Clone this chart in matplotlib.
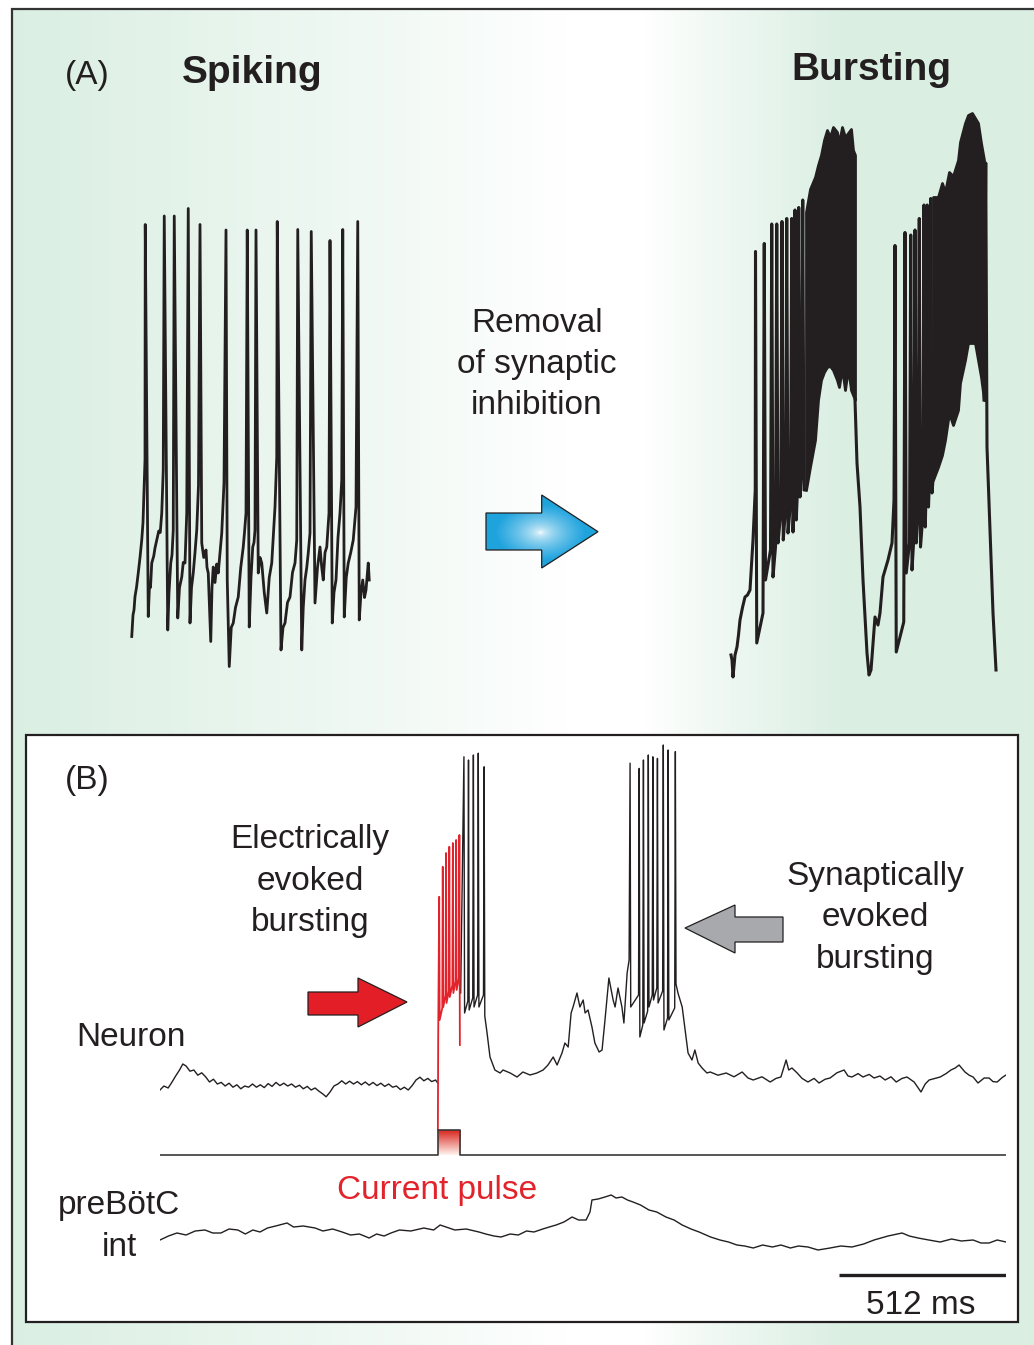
import numpy as np
import matplotlib.pyplot as plt
from matplotlib.patches import Polygon, Rectangle

plt.rcParams['font.family'] = ['Liberation Sans', 'DejaVu Sans']

W, H = 1034, 1345
INK = '#231f20'
RED = '#e3232b'

#~~~~~~~~~~~~~~~~~~~~~~~~~~ (A) spiking trace: time (ms), Vm (mV) ~~~~~~~~~~~~~~~~~~~~~~~~~~
spk_t = [7, 12, 16, 20, 26, 33, 40, 47, 52, 56, 60, 61,
         73, 78, 82, 87, 95, 100, 107, 115, 121, 127, 133, 137,
         151, 156, 163, 168, 173, 177,
         191, 198, 207, 213, 220, 227, 233,
         240, 246, 253, 260, 267, 274, 280,
         287, 295, 304, 308, 313, 318, 323, 328, 333, 340, 347, 353, 360, 367, 376, 384,
         389, 397, 405, 413, 422, 433, 443, 453, 458, 464, 469,
         477, 484, 491, 496, 500, 504,
         513, 520, 527, 537, 547, 557, 567, 574, 580, 587, 589,
         604, 612, 620, 630, 640, 650, 660, 667, 671,
         687, 693, 700, 707, 713, 720, 725,
         740, 750, 760, 767, 773, 780, 787, 796, 800,
         809, 816, 824, 832, 840, 847, 851,
         857, 865, 873, 883, 893, 904, 911,
         917, 924, 931, 938, 944, 953, 957]
spk_v = [-61.3, -57, -56, -53.3, -51.5, -48.6, -45.5, -42, -38.5, -32, -26, 21.1,
         -57.3, -51, -51.5, -46.6, -45.2, -43.6, -42, -40.2, -40.5, -36.6, -28, 22.8,
         -60, -52.5, -46.6, -45, -40, 22.8,
         -57.6, -51.5, -49.4, -46.5, -46.6, -36.6, 24.3,
         -58.6, -51.5, -48.6, -44.5, -40, -31, 21.1,
         -42.6, -45.5, -44, -47.5, -48.6, -55.5, -62.3, -51.5, -47.4, -50.5, -46.8, -48.6,
         -44.5, -40.6, -30.6, 20,
         -50, -67.3, -59.5, -58.6, -55.5, -53.4, -47.5, -43.4, -40.5, -36.6, 20,
         -59.4, -49.5, -43.4, -42.5, -40, 20,
         -48.6, -45.5, -46.6, -52.5, -56.6, -49.5, -46.6, -40.5, -35.4, -25.4, 21.7,
         -64, -59.5, -58.6, -54.5, -53.4, -48.5, -46.6, -42, 20.1,
         -64, -55.5, -50, -47.5, -44.6, -40.6, 19.7,
         -54.6, -47.5, -43.4, -47.5, -50, -44.5, -43.4, -36.6, 17.9,
         -58.6, -52.5, -50, -41.5, -36.6, -30, 20.1,
         -57.4, -49.5, -46.6, -44.5, -42, -35.4, 21.7,
         -58, -52.5, -50, -53.5, -52, -46.6, -50]

#~~~~~~~~~~~~~~~~~~~~~~~~~~ (A) bursting trace ~~~~~~~~~~~~~~~~~~~~~~~~~~
b_pre_t = [4, 8, 12, 20, 28, 34, 40, 50, 60, 70, 80, 86, 92, 101]
b_pre_v = [-65, -66, -69.4, -65, -63.4, -61, -58, -55.5, -53.4, -53, -52, -47, -42, -32]
b1_t = [102, 137, 167, 187, 208, 227, 247, 260, 275, 291]
b1_peak = [15.7, 17.3, 21.2, 21.2, 21.7, 22.3, 22.3, 24, 24.5, 26]
b1_trough = [-62.6, -50, -49.4, -42.6, -42, -40.6, -40.4, -38, -33.4, -32]
d1_t = [304, 320, 340, 352, 364, 376, 388, 400, 412, 428, 436, 448, 460, 472, 484, 492, 500]
d1_top = [23.6, 28.2, 30.6, 33, 35, 38, 40, 38.6, 40.6, 39.6, 37.4, 40.6, 38.6, 39.4, 40.2, 36, 35]
d1_bot = [-32, -27.4, -22, -14, -10, -8.4, -7.4, -7.2, -8, -10, -11.4, -7.6, -12, -7.6, -12, -13, -14]
b_mid_t = [500, 508, 520, 532, 548, 556, 564, 568, 580, 592, 600, 612, 632, 648, 656]
b_mid_v = [-14, -26.6, -35.4, -50, -64.6, -69, -68, -65.4, -57.4, -59, -56.6, -49.4, -46, -42.6, -34]
b2_t = [660, 700, 723, 740, 757, 776, 789, 803]
b2_peak = [16.9, 19.5, 19, 20, 22.3, 25, 25, 26.3]
b2_trough = [-64.4, -48.6, -48, -42.6, -43.4, -39.4, -35.4, -32.6]
d2_t = [812, 832, 848, 860, 876, 892, 912, 920, 940, 952, 968, 980, 992, 1004, 1016]
d2_top = [26.6, 26.6, 29.4, 27.6, 31.6, 30.8, 34, 37.6, 41.4, 43, 43.4, 42.4, 41.4, 37.4, 34]
d2_bot = [-30, -27.4, -25, -22, -16.6, -19, -16, -10.6, -6, -2.6, -2.6, -2.6, -6, -9.4, -14]
b_end_t = [1016, 1023, 1028, 1040, 1052, 1064]
b_end_v = [-14, 33.4, -23.4, -40, -56.6, -68]

#~~~~~~~~~~~~~~~~~~~~~~~~~~ (B) neuron (mV), current (nA), preBotC int (a.u.) ~~~~~~~~~~~~~~~~~~~~~~~~~~
nrn_left_t = [0, 12, 25, 37, 48, 60, 70, 80, 92, 104, 116, 128, 140, 152, 164, 176, 188, 200,
              212, 224, 236, 248, 260, 272, 284, 296, 308, 320, 332, 344, 356, 368, 380, 392,
              404, 416, 428, 440, 452, 464, 476, 488, 500, 510, 522, 534, 546, 558, 570, 582,
              594, 606, 618, 630, 642, 654, 666, 678, 690, 702, 714, 726, 738, 750, 762, 774,
              786, 798, 810, 822, 834, 846, 853]
nrn_left_v = [-62.5, -61.5, -62, -60.5, -59, -57.5, -56, -56.5, -57.8, -57.5, -58.8, -58.2,
              -59.2, -60.5, -59.8, -61, -60.6, -61.5, -60.8, -61.8, -61.2, -62.2, -61.5, -61.8,
              -61, -61.8, -61.2, -61.9, -60.9, -61.6, -60.6, -61.4, -60.8, -61.5, -61, -61.8,
              -61.3, -62.2, -61.6, -62.5, -62, -62.8, -63.5, -64.2, -63, -61.5, -61, -60.2, -61,
              -60.3, -61, -60.4, -61.2, -60.5, -61.3, -60.6, -61.4, -60.8, -61.6, -61, -61.8,
              -61.5, -62.4, -61.8, -62.5, -61.4, -60, -59.3, -60.2, -59.6, -60.4, -60, -60.8]
# electrically evoked spikes (red, during the pulse)
ev_start_t = [853, 854]
ev_start_v = [-72.5, -49.25]
ev_t = [857, 868, 878, 888, 899, 909, 919]
ev_peak = [-14.2, -6.7, -3.25, -1.7, -0.75, 0, 1.25]
ev_trough = [-45, -41.75, -40.75, -39.25, -38.25, -37.5, -51.25]
# spikes after the pulse
ap1_t = [933, 947, 962, 977, 995]
ap1_peak = [20.8, 20, 21.25, 21.7, 18.3]
ap1_trough = [-43.25, -42.5, -41.75, -41.75, -44]
nrn_mid_t = [1004, 1013, 1028, 1044, 1053, 1075, 1096, 1114, 1136, 1157, 1176, 1191, 1207,
             1219, 1234, 1243, 1253, 1262, 1268, 1280, 1289, 1299, 1305, 1314, 1326, 1335,
             1348, 1357, 1366, 1378, 1391, 1397, 1406, 1418, 1424, 1434, 1440]
nrn_mid_v = [-48.25, -54.25, -57.5, -58.25, -57.5, -58.25, -59.25, -58, -58.75, -58.25, -57.5,
             -56.25, -54.25, -56.25, -53.25, -50.75, -51.75, -43.25, -41.75, -38.25, -41.75,
             -40, -43.25, -42.5, -46.75, -50.75, -53, -52.5, -45, -34.5, -40, -41.75, -37,
             -41.75, -45.75, -33.25, -30]
# synaptically evoked burst
ap2_t = [1443, 1471, 1484, 1499, 1513, 1527, 1545, 1560, 1582]
ap2_peak = [19.2, 17.9, 20, 21.25, 20.8, 20.4, 23.75, 22.5, 22.1]
ap2_trough = [-41.75, -49.25, -45.75, -41.75, -40, -40.75, -47.5, -45, -36]
nrn_tail_t = [1590, 1603, 1612, 1621, 1633, 1642, 1652, 1664, 1679]
nrn_tail_v = [-38.25, -41.75, -47.5, -53.25, -55, -52.5, -55.75, -57, -58.25]
nrn_right_t = [1689, 1713, 1738, 1762, 1787, 1805, 1821, 1848, 1873, 1891, 1906, 1922, 1930,
               1940, 1956, 1971, 1989, 2008, 2023, 2042, 2057, 2078, 2100, 2112, 2124, 2143,
               2158, 2177, 2192, 2210, 2226, 2244, 2260, 2278, 2293, 2315, 2336, 2349, 2361,
               2379, 2395, 2413, 2428, 2441, 2453, 2471, 2484, 2496, 2511, 2530, 2545, 2557,
               2570, 2585, 2597]
nrn_right_v = [-58, -58.8, -58.25, -59.2, -58, -59.5, -60, -59.2, -60.5, -59.6, -59.25, -55,
               -57.5, -57, -58.25, -59.6, -60.5, -59.6, -60.75, -59.8, -59.5, -58.2, -57.5, -59,
               -59.25, -58.4, -59.25, -58.6, -59.5, -59, -60, -59.2, -60.5, -59.6, -59.25,
               -60.5, -63, -61, -60, -59.6, -59.25, -58.4, -57.5, -57, -56.25, -58, -58.8,
               -59.25, -60.75, -59.5, -59.5, -60.4, -60.5, -59.4, -58.75]

pulse_on, pulse_off, pulse_amp = 853, 921, 0.5
t_end = 2597

int_t = [0, 26, 52, 80, 108, 138, 162, 187, 212, 239, 262, 285, 307, 330, 355, 390, 410, 440,
         476, 500, 530, 559, 585, 612, 642, 665, 688, 709, 735, 770, 810, 840, 860, 878, 905,
         940, 979, 1000, 1025, 1047, 1075, 1100, 1125, 1148, 1175, 1195, 1216, 1240, 1265,
         1285, 1308, 1320, 1326, 1345, 1366, 1385, 1400, 1418, 1435, 1452, 1475, 1501, 1525,
         1553, 1578, 1603, 1630, 1655, 1690, 1719, 1745, 1771, 1795, 1821, 1850, 1880, 1906,
         1935, 1960, 1989, 2020, 2057, 2090, 2124, 2160, 2192, 2235, 2278, 2300, 2327, 2360,
         2395, 2430, 2460, 2496, 2520, 2545, 2570, 2597]
int_v = [2.0, 2.4, 2.7, 2.5, 2.9, 3.0, 2.7, 2.7, 3.1, 3.0, 2.6, 3.0, 2.8, 3.2, 3.4, 3.7, 3.3,
         3.4, 3.2, 2.9, 3.1, 2.8, 2.5, 2.6, 2.2, 2.6, 2.4, 2.7, 3.0, 2.9, 3.2, 3.0, 3.5, 3.3,
         3.0, 3.1, 2.8, 2.6, 2.4, 2.3, 2.6, 2.5, 2.9, 2.8, 3.1, 3.3, 3.5, 3.8, 4.3, 4.0, 4.0,
         4.8, 6.0, 6.1, 6.3, 6.5, 6.2, 6.3, 6.0, 5.8, 5.5, 5.0, 4.8, 4.3, 4.0, 3.5, 3.1, 2.8,
         2.3, 2.0, 1.8, 1.5, 1.4, 1.2, 1.5, 1.3, 1.5, 1.2, 1.4, 1.3, 1.0, 1.2, 1.4, 1.3, 1.6,
         2.0, 2.4, 2.7, 2.4, 2.2, 2.0, 1.8, 2.1, 1.9, 2.0, 1.7, 1.7, 2.0, 1.8]
scale_ms = 512


def spike_path(t, peak, trough, w, ramp):
    xs, ys = [], []
    for i in range(len(t)):
        if i > 0:
            xs.append(t[i] - w); ys.append(trough[i - 1] + ramp)
        xs += [t[i], t[i] + w]
        ys += [peak[i], trough[i]]
    return xs, ys


def px_axes(fig, x0, y0, x1, y1):
    ax = fig.add_axes([x0 / W, 1 - y1 / H, (x1 - x0) / W, (y1 - y0) / H])
    ax.set_facecolor('none')
    ax.axis('off')
    return ax


fig = plt.figure(figsize=(W / 100, H / 100), dpi=100)
fig.patch.set_facecolor('white')

#~~~~~~~~~~~~~~~~~~~~~~~~~~ background / frames (pixel coordinates) ~~~~~~~~~~~~~~~~~~~~~~~~~~
bg = fig.add_axes([0, 0, 1, 1])
bg.set_xlim(0, W); bg.set_ylim(H, 0); bg.axis('off')

xx = np.arange(W, dtype=float)
g = np.where(xx < 560, (560 - xx) / 550, np.where(xx > 640, np.clip((xx - 640) / 200, 0, 1), 0))
g = np.clip(g, 0, 1) ** 0.9
green = np.array([0.858, 0.937, 0.890])
img = (1 - g)[None, :, None] * 1.0 + g[None, :, None] * green[None, None, :]
bg.imshow(img, extent=[11, W, H, 8], aspect='auto', zorder=0, interpolation='bilinear')
bg.plot([11.5, 11.5], [H, 8], color='#333333', lw=1.6, zorder=1, solid_capstyle='butt')
bg.plot([11, W], [8.5, 8.5], color='#333333', lw=1.6, zorder=1, solid_capstyle='butt')
bg.add_patch(Rectangle((26, 735), 992, 587, facecolor='white', edgecolor=INK, lw=1.6, zorder=1))

# blue arrow with highlight
blue_arrow = Polygon([(486, 513), (541.7, 513), (541.7, 495), (598, 531.7), (541.7, 568),
                      (541.7, 550), (486, 550)], closed=True, facecolor='none',
                     edgecolor=INK, lw=0.9, zorder=4)
bg.add_patch(blue_arrow)
gy, gx = np.mgrid[494:570, 485:600]
d = np.sqrt(((gx - 540) / 45.0) ** 2 + ((gy - 532) / 28.0) ** 2)
s = np.clip(d, 0, 1) ** 0.6
blue = np.array([0.12, 0.64, 0.87])
bimg = (1 - s)[..., None] + s[..., None] * blue
im = bg.imshow(bimg, extent=[485, 600, 570, 494], aspect='auto', zorder=3, interpolation='bilinear')
im.set_clip_path(blue_arrow)

bg.add_patch(Polygon([(308, 992), (358, 992), (358, 978), (407, 1002), (358, 1027),
                      (358, 1015), (308, 1015)], closed=True, facecolor='#e31e26',
                     edgecolor=INK, lw=0.9, zorder=3))
bg.add_patch(Polygon([(783, 917), (735, 917), (735, 905), (685, 928), (735, 953),
                      (735, 942), (783, 942)], closed=True, facecolor='#a7a9ac',
                     edgecolor=INK, lw=0.9, zorder=3))

#~~~~~~~~~~~~~~~~~~~~~~~~~~ text ~~~~~~~~~~~~~~~~~~~~~~~~~~
FS = 24
txt = dict(ha='center', va='baseline', color=INK, zorder=5)
bg.text(87, 84, '(A)', fontsize=FS, **txt)
bg.text(252, 83, 'Spiking', fontsize=28, fontweight='bold', **txt)
bg.text(871, 80, 'Bursting', fontsize=28, fontweight='bold', **txt)
bg.text(537, 332, 'Removal', fontsize=FS, **txt)
bg.text(537, 373, 'of synaptic', fontsize=FS, **txt)
bg.text(537, 414, 'inhibition', fontsize=FS, **txt)
bg.text(87, 789, '(B)', fontsize=FS, **txt)
bg.text(310, 848, 'Electrically', fontsize=FS, **txt)
bg.text(310, 890, 'evoked', fontsize=FS, **txt)
bg.text(310, 931, 'bursting', fontsize=FS, **txt)
bg.text(875, 885, 'Synaptically', fontsize=FS, **txt)
bg.text(875, 926, 'evoked', fontsize=FS, **txt)
bg.text(875, 968, 'bursting', fontsize=FS, **txt)
bg.text(131, 1046, 'Neuron', fontsize=FS, **txt)
bg.text(119, 1214, 'preBötC', fontsize=FS, **txt)
bg.text(119, 1256, 'int', fontsize=FS, **txt)
bg.text(437, 1199, 'Current pulse', fontsize=FS, ha='center', va='baseline', color=RED, zorder=5)
bg.text(921, 1314, f'{scale_ms} ms', fontsize=FS, **txt)

#~~~~~~~~~~~~~~~~~~~~~~~~~~ (A) traces ~~~~~~~~~~~~~~~~~~~~~~~~~~
ax_s = px_axes(fig, 125, 80, 375, 705)
ax_s.plot(spk_t, spk_v, color=INK, lw=2.0, solid_joinstyle='round')
ax_s.set_xlim(-20, 980); ax_s.set_ylim(-75, 50)

ax_b = px_axes(fig, 725, 80, 1005, 705)
x1, y1 = spike_path(b1_t, b1_peak, b1_trough, 5, 6)
x2, y2 = spike_path(b2_t, b2_peak, b2_trough, 5, 6)
bx = b_pre_t + x1 + [d1_t[0]]
by = b_pre_v + y1 + [d1_bot[0]]
ax_b.plot(bx, by, color=INK, lw=2.2)
ax_b.fill_between(d1_t, d1_bot, d1_top, color=INK, lw=2.0, edgecolor=INK)
ax_b.plot(b_mid_t + x2 + [d2_t[0]], b_mid_v + y2 + [d2_bot[0]], color=INK, lw=2.2)
ax_b.fill_between(d2_t, d2_bot, d2_top, color=INK, lw=2.0, edgecolor=INK)
ax_b.plot(b_end_t, b_end_v, color=INK, lw=2.2)
ax_b.set_xlim(-20, 1100); ax_b.set_ylim(-75, 50)

#~~~~~~~~~~~~~~~~~~~~~~~~~~ (B) traces ~~~~~~~~~~~~~~~~~~~~~~~~~~
ax_n = px_axes(fig, 160, 740, 1006, 1135)
ax_n.plot(nrn_left_t, nrn_left_v, color=INK, lw=1.0)
ex, ey = spike_path(ev_t, ev_peak, ev_trough, 1.5, 3)
ax_n.plot(ev_start_t + ex, ev_start_v + ey, color=RED, lw=1.3, zorder=3)
ax1, ay1 = spike_path(ap1_t, ap1_peak, ap1_trough, 2, 3)
ax2, ay2 = spike_path(ap2_t, ap2_peak, ap2_trough, 2, 3)
nx = [923] + ax1 + nrn_mid_t + ax2 + nrn_tail_t + nrn_right_t
ny = [-38.25] + ay1 + nrn_mid_v + ay2 + nrn_tail_v + nrn_right_v
ax_n.plot(nx, ny, color=INK, lw=1.0)
ax_n.set_xlim(0, t_end); ax_n.set_ylim(-73.75, 25)

ax_c = px_axes(fig, 160, 1120, 1006, 1165)
cs = np.linspace(0, 1, 60)[:, None]
red_c = np.array([0.85, 0.15, 0.12])
pink = np.array([1.0, 0.95, 0.93])
cimg = red_c[None, None, :] * (1 - cs[..., None]) + pink[None, None, :] * cs[..., None]
cimg = np.repeat(cimg, 2, axis=1)
ax_c.imshow(cimg, extent=[pulse_on, pulse_off, 0, pulse_amp], aspect='auto', zorder=1)
ax_c.plot([0, pulse_on, pulse_on, pulse_off, pulse_off, t_end],
          [0, 0, pulse_amp, pulse_amp, 0, 0], color='#3a3a3a', lw=1.2, zorder=2)
ax_c.set_xlim(0, t_end); ax_c.set_ylim(-0.2, 0.7)

ax_i = px_axes(fig, 160, 1180, 1006, 1290)
ax_i.plot(int_t, int_v, color=INK, lw=1.0)
ax_i.plot([t_end - scale_ms, t_end], [-1.5, -1.5], color=INK, lw=2.4, solid_capstyle='butt')
ax_i.set_xlim(0, t_end); ax_i.set_ylim(-3, 8)

fig.savefig('out.png', dpi=100)
